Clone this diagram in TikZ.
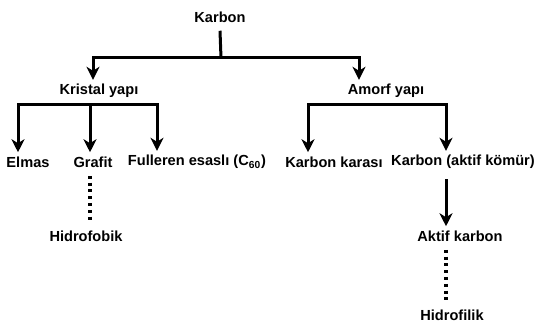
\documentclass[tikz,border=0pt]{standalone}
\usepackage{fontspec}
\setmainfont{Liberation Sans}
\usetikzlibrary{arrows.meta}

\begin{document}
\begin{tikzpicture}[x=0.5pt, y=-0.5pt,
	lbl/.style={shape=rectangle, anchor=center, inner sep=2pt, font=\bfseries\fontsize{7.3}{8.5}\selectfont},
	wire/.style={line width=1.5pt, line join=miter},
	arr/.style={wire, -{Stealth[length=6.5pt, width=6.5pt, inset=2pt]}},
	dots/.style={line width=1.7pt, dash pattern=on 1.5pt off 1.9pt}]
	\useasboundingbox (0,0) rectangle (535,325);
	% Paths, nodes and wires:
	\node[lbl] (karbon) at (220, 17){Karbon};
	\node[lbl] (kristal) at (99, 91){Kristal yapı};
	\node[lbl] (amorf) at (386, 91){Amorf yapı};
	\node[lbl] (elmas) at (28, 162){Elmas};
	\node[lbl] (grafit) at (93, 162){Grafit};
	\node[lbl] (fulleren) at (197, 162){Fulleren esaslı (C\textsubscript{60})};
	\node[lbl] (karasi) at (334, 162){Karbon karası};
	\node[lbl] (aktifkomur) at (463, 162){Karbon (aktif kömür)};
	\node[lbl] (hidrofobik) at (86, 236){Hidrofobik};
	\node[lbl] (aktifkarbon) at (460, 236){Aktif karbon};
	\node[lbl] (hidrofilik) at (452, 315){Hidrofilik};
	\coordinate (ksplit) at (221, 58);
	\coordinate (krbar) at (90, 105);
	\coordinate (ambar) at (377, 105);
	% main split
	\draw[wire] ([yshift=-2pt]karbon.south) -- (ksplit);
	\draw[arr] (ksplit) -| ([xshift=-3pt]kristal.north);
	\draw[arr] (ksplit) -| ([xshift=-13.5pt]amorf.north);
	% Kristal yapi
	\draw[arr] (krbar) -| ([xshift=-5pt]elmas.north);
	\draw[arr] (krbar) -- (krbar |- grafit.north);
	\draw[arr] (krbar) -| ([xshift=-20pt]fulleren.north);
	% Amorf yapi
	\draw[arr] (ambar) -| ([xshift=-13pt]karasi.north);
	\draw[arr] (ambar) -| ([xshift=-8.5pt]aktifkomur.north);
	\draw[arr] ([xshift=-8.5pt, yshift=-3pt]aktifkomur.south) -- ([xshift=-8.5pt]aktifkomur.south |- aktifkarbon.north);
	% dotted links
	\draw[dots] ([yshift=-2pt]krbar |- grafit.south) -- ([yshift=2pt]krbar |- hidrofobik.north);
	\draw[dots] ([xshift=-7pt, yshift=-2pt]aktifkarbon.south) -- ([xshift=-7pt, yshift=2pt]aktifkarbon.south |- hidrofilik.north);
\end{tikzpicture}
\end{document}
